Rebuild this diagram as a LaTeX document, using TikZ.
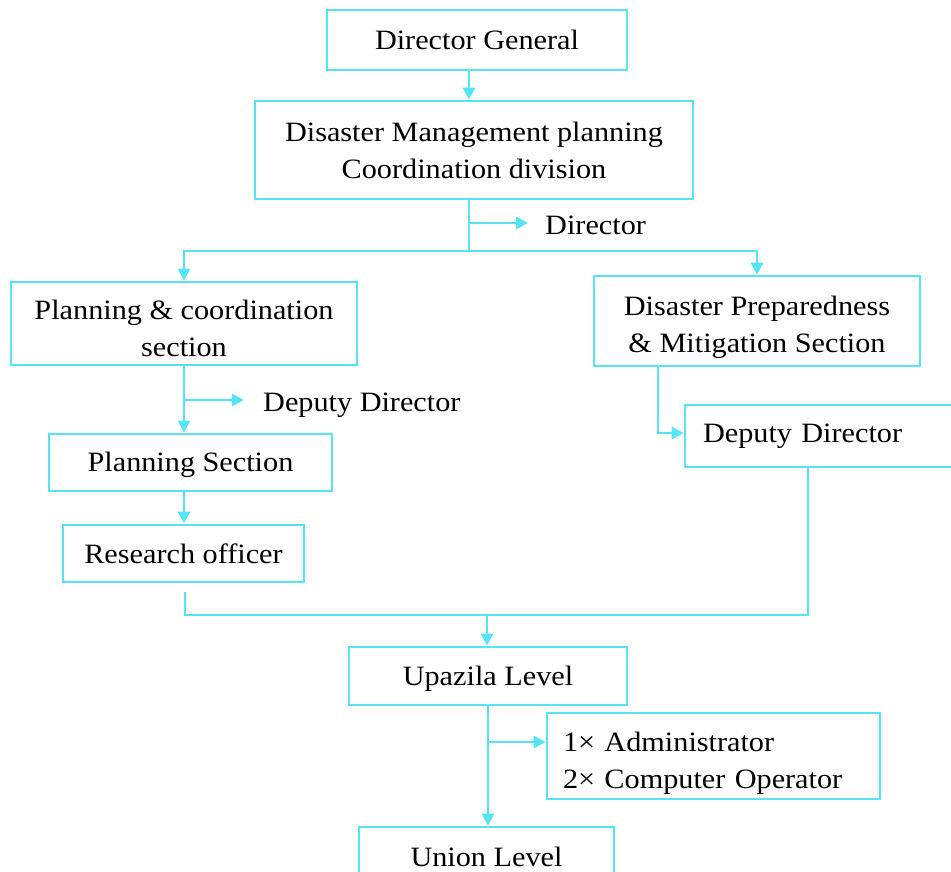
\documentclass[tikz,border=0pt]{standalone}
\usepackage{fontspec}
\setmainfont{Liberation Serif}[FakeStretch=1.08]
\usetikzlibrary{arrows.meta,calc}
\definecolor{ln}{RGB}{85,228,245}
\newcommand{\upstrut}[1]{\rule{0pt}{#1}}
\begin{document}
\begin{tikzpicture}[x=1pt,y=-1pt,
  box/.style={draw=ln,line width=2.8pt,inner sep=0pt,align=center,font=\fontsize{28}{37}\selectfont},
  lbl/.style={inner sep=0pt,anchor=west,font=\fontsize{28}{37}\selectfont},
  ln/.style={draw=ln,line width=2.8pt},
  arr/.style={ln,-{Triangle[length=12pt,width=12pt]}}]
\useasboundingbox (0,0) rectangle (951,872);
\node[box,minimum width=300pt,minimum height=60pt] (dg) at (477,40) {Director General};
\node[box,minimum width=438pt,minimum height=98pt] (dmp) at (474,150) {Disaster Management planning\\Coordination division};
\node[box,minimum width=346pt,minimum height=83pt] (pcs) at (184,323.5) {\upstrut{30pt}Planning \& coordination\\section};
\node[box,minimum width=326pt,minimum height=90pt] (dpm) at (757,321) {\upstrut{32pt}Disaster Preparedness\\\& Mitigation Section};
\node[box,minimum width=283pt,minimum height=57pt] (ps) at (190.5,462.5) {\upstrut{25pt}Planning Section};
\node[box,minimum width=241pt,minimum height=57pt] (ro) at (183.5,553.5) {Research officer};
\node[box,minimum width=272pt,minimum height=62pt,text width=236pt,align=left,inner xsep=18pt] (dd2) at (821,436) {Deputy Director};
\node[box,minimum width=278pt,minimum height=58pt] (up) at (488,676) {\upstrut{25pt}Upazila Level};
\node[box,minimum width=333pt,minimum height=86pt,text width=301pt,align=left,inner xsep=16pt] (adm) at (713.5,756) {\upstrut{34pt}1× Administrator\\2× Computer Operator};
\node[box,minimum width=255pt,minimum height=60pt] (un) at (486.5,857) {Union Level};
\node[lbl] (dir) at (545,225) {Director};
\node[lbl] (dd1) at (263,405) {Deputy Director};
% connectors
\coordinate (j1) at (469,251);
\coordinate (b1) at (469,223);
\coordinate (b2) at (184,400);
\coordinate (j2) at (185,615);
\coordinate (s2) at (185,592);
\coordinate (j3) at (487,615);
\coordinate (b3) at (488,742);
\draw[arr] (dg.south -| j1) -- (dmp.north -| j1);
\draw[ln] (dmp.south -| j1) -- (j1);
\draw[arr] (b1) -- ($(dir.west)+(-17,-2)$);
\draw[arr] (j1) -| (pcs.north);
\draw[arr] (j1) -| (dpm.north);
\draw[arr] (pcs.south) -- (pcs.south |- ps.north);
\draw[arr] (b2) -- ($(dd1.west)+(-19,-5)$);
\draw[arr] (ps.south -| pcs) -- (ro.north -| pcs);
\draw[arr] (dpm.south -| 658,0) |- (dd2.west |- 0,433);
\draw[ln] (s2) -- (j2) -| (dd2.south -| 808,0);
\draw[arr] (j3) -- (up.north -| j3);
\draw[arr] (up.south) -- (un.north -| up.south);
\draw[arr] (b3) -- (adm.west |- b3);
\end{tikzpicture}
\end{document}
